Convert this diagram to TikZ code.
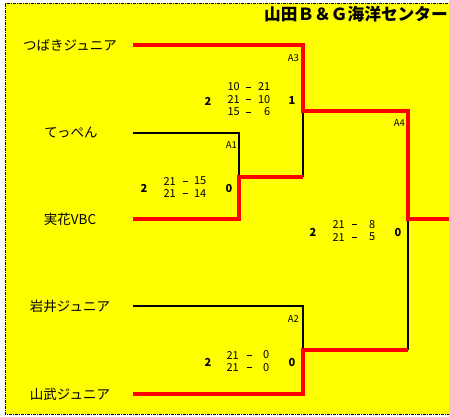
\documentclass[tikz,border=0pt]{standalone}
\usepackage{fontspec}
\setmainfont{Noto Sans CJK JP}
\definecolor{bgyellow}{RGB}{255,255,0}
\definecolor{winred}{RGB}{255,0,0}

\begin{document}
\begin{tikzpicture}[x=1pt, y=-1pt,
	win/.style={winred, line width=3.2pt},
	lose/.style={black, line width=1.3pt},
	team/.style={font=\fontsize{13.5}{14}\selectfont, inner sep=0pt},
	pts/.style={font=\fontsize{11}{12}\selectfont, inner sep=0pt},
	ptsep/.style={font=\fontsize{11}{12}\selectfont, inner sep=0pt},
	sets/.style={font=\bfseries\fontsize{11}{12}\selectfont, inner sep=0pt},
	game/.style={font=\fontsize{9.5}{10}\selectfont, inner sep=0pt, anchor=east}]
	\useasboundingbox (0,0) rectangle (449,416);
	\clip (0,0) rectangle (449,416);

	%Background and frame:
	\fill[bgyellow] (5,3) rectangle (460,414);
	\draw[line width=1pt, dash pattern=on 3pt off 1pt on 1pt off 1pt] (460,3) -- (5,3) -- (5,414) -- (460,414);
	\node[anchor=east, font=\bfseries\fontsize{16.7}{17}\selectfont, inner sep=0pt] (title) at (448,14) {山田Ｂ＆Ｇ海洋センター};

	%Teams:
	\node[team] (t1) at (70,45) {つばきジュニア};
	\node[team] (t2) at (71,132) {てっぺん};
	\node[team] (t3) at (70,219) {実花VBC};
	\node[team] (t4) at (70,306) {岩井ジュニア};
	\node[team] (t5) at (70,394) {山武ジュニア};

	\foreach \n/\y in {1/45,2/133,3/219,4/306,5/394}
		\coordinate (s\n) at (133,\y);
	\coordinate (a1) at (239,177);
	\coordinate (a2) at (303,350);
	\coordinate (a3) at (303,111);
	\coordinate (a4) at (408,219);
	\coordinate (fin) at (460,219);

	%Bracket:
	\draw[lose] (s2) -| (a1);
	\draw[lose] (a1 -| a3) -- (a3);
	\draw[lose] (s4) -| (a2);
	\draw[lose] (a2 -| a4) -- (a4);
	\draw[win] (s1) -| (a3) -| (a4) -- (fin);
	\draw[win] (s3) -| (a1) -- (a1 -| a3);
	\draw[win] (s5) -| (a2) -- (a2 -| a4);

	\node[game] (g1) at (237,145) {A1};
	\node[game] (g3) at (299,58) {A3};
	\node[game] (g4) at (405,123) {A4};
	\node[game] (g2) at (299,319) {A2};

	%Results:
	\node[sets] (w3) at (208,101) {2};
	\node[sets] (v3) at (292,101) {1};
	\node[sets] (w1) at (144,188) {2};
	\node[sets] (v1) at (229,188) {0};
	\node[sets] (w4) at (313,232) {2};
	\node[sets] (v4) at (398,232) {0};
	\node[sets] (w2) at (208,362) {2};
	\node[sets] (v2) at (292,362) {0};

	\foreach \l/\r [count=\i] in {10/21,21/10,15/6}
	{
		\node[pts, anchor=east] (p3l\i) at (240,74.5+12.5*\i) {\l};
		\node[ptsep] (p3d\i) at (248.5,74.5+12.5*\i) {\vphantom{0}\rule[3.5pt]{5pt}{0.8pt}};
		\node[pts, anchor=east] (p3r\i) at (270.5,74.5+12.5*\i) {\r};
	}
	\foreach \l/\r [count=\i] in {21/15,21/14}
	{
		\node[pts, anchor=east] (p1l\i) at (176,168.5+12.5*\i) {\l};
		\node[ptsep] (p1d\i) at (185,168.5+12.5*\i) {\vphantom{0}\rule[3.5pt]{5pt}{0.8pt}};
		\node[pts, anchor=east] (p1r\i) at (206.5,168.5+12.5*\i) {\r};
	}
	\foreach \l/\r [count=\i] in {21/8,21/5}
	{
		\node[pts, anchor=east] (p4l\i) at (345,212+12.5*\i) {\l};
		\node[ptsep] (p4d\i) at (354.5,212+12.5*\i) {\vphantom{0}\rule[3.5pt]{5pt}{0.8pt}};
		\node[pts, anchor=east] (p4r\i) at (375.5,212+12.5*\i) {\r};
	}
	\foreach \l/\r [count=\i] in {21/0,21/0}
	{
		\node[pts, anchor=east] (p2l\i) at (239,342.5+12.5*\i) {\l};
		\node[ptsep] (p2d\i) at (249,342.5+12.5*\i) {\vphantom{0}\rule[3.5pt]{5pt}{0.8pt}};
		\node[pts, anchor=east] (p2r\i) at (269.5,342.5+12.5*\i) {\r};
	}
\end{tikzpicture}
\end{document}
